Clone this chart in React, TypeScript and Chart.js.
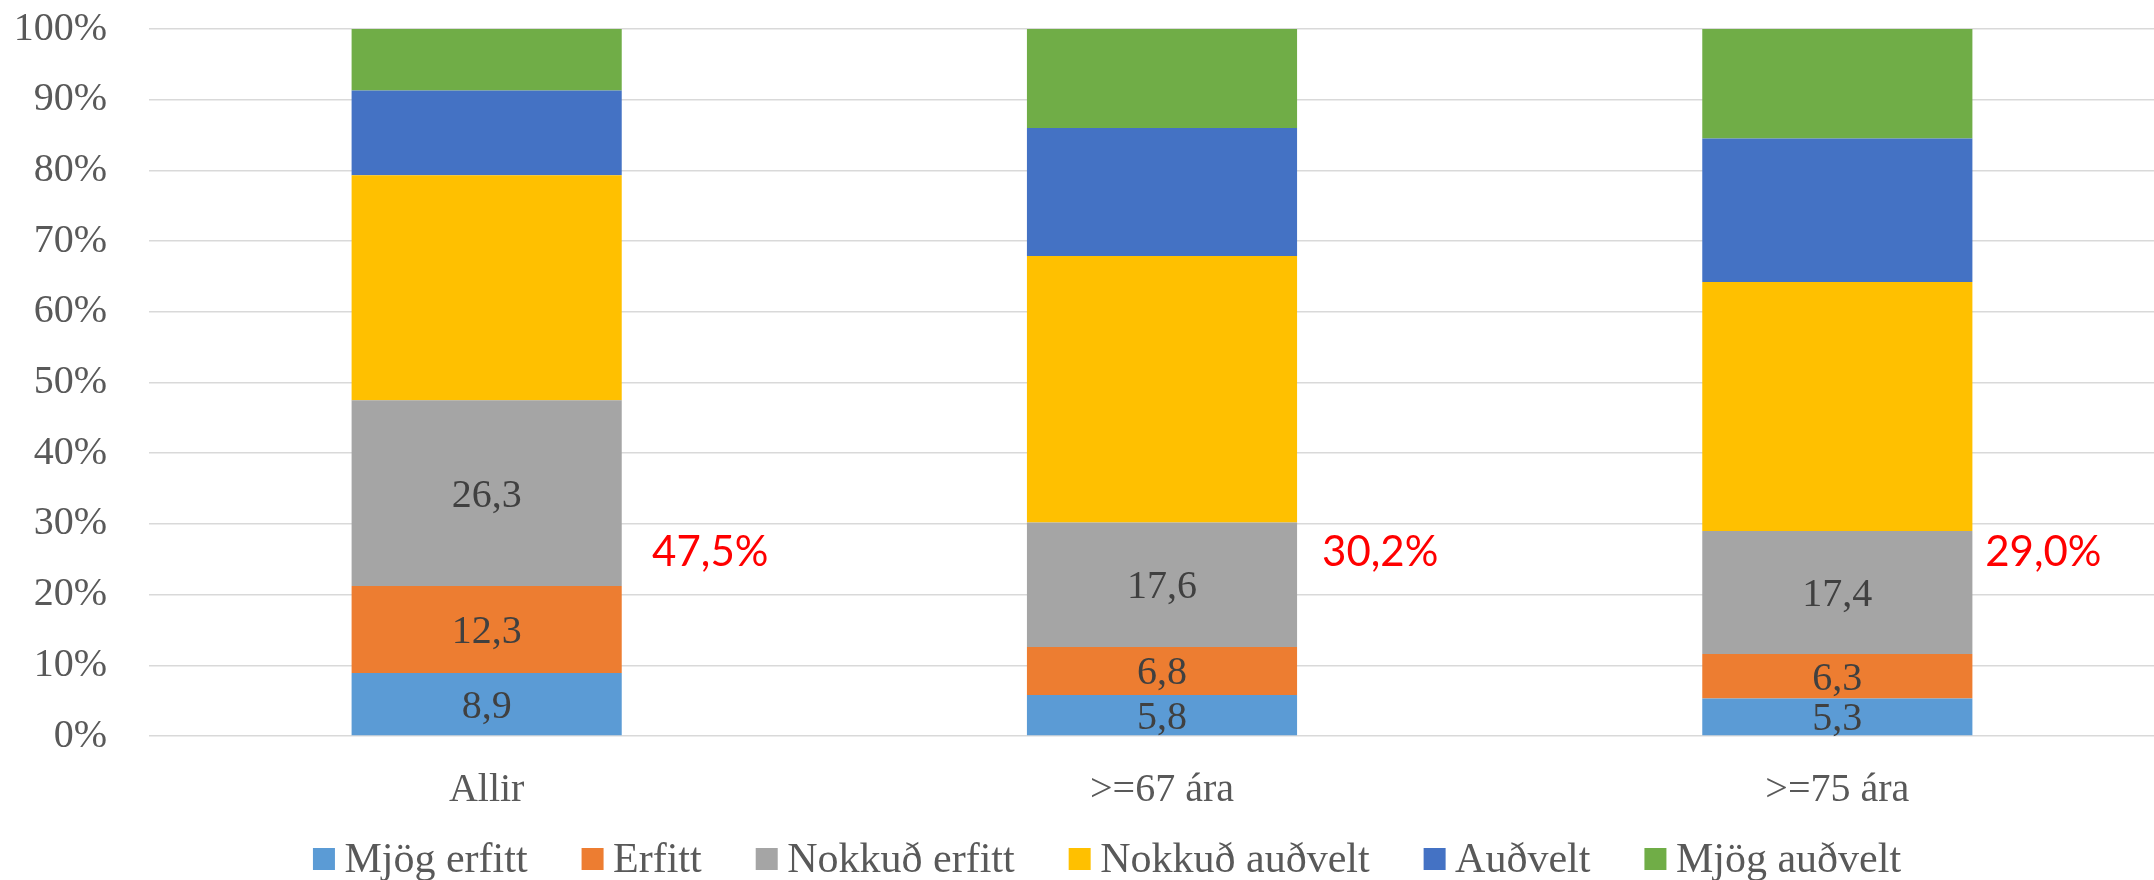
import { useEffect, useRef } from 'react';
import { Chart, registerables } from 'chart.js';

Chart.register(...registerables);

const categories = ['Allir', '>=67 ára', '>=75 ára'];
const seriesNames = ['Mjög erfitt', 'Erfitt', 'Nokkuð erfitt', 'Nokkuð auðvelt', 'Auðvelt', 'Mjög auðvelt'];
const mjogErfitt = [8.9, 5.8, 5.3];
const erfitt = [12.3, 6.8, 6.3];
const nokkudErfitt = [26.3, 17.6, 17.4];
const nokkudAudvelt = [31.8, 37.7, 35.2];
const audvelt = [12.0, 18.1, 20.3];
const mjogAudvelt = [8.7, 14.0, 15.5];
const difficultTotals = [47.5, 30.2, 29.0];
const seriesColors = ['#5B9BD5', '#ED7D31', '#A5A5A5', '#FFC000', '#4472C4', '#70AD47'];

const SERIF = '"Liberation Serif", "Times New Roman", serif';
const CANVAS_W = 2176;
const CANVAS_H = 880;

const fmt = (v: number) => v.toFixed(1).replace('.', ',');

const segmentLabels = {
  id: 'segmentLabels',
  afterDatasetsDraw(chart: any) {
    const ctx = chart.ctx;
    ctx.save();
    ctx.font = `40px ${SERIF}`;
    ctx.fillStyle = '#404040';
    ctx.textAlign = 'center';
    ctx.textBaseline = 'middle';
    for (let d = 0; d < 3; d++) {
      const meta = chart.getDatasetMeta(d);
      const values = chart.data.datasets[d].data as number[];
      meta.data.forEach((bar: any, i: number) => {
        const p = bar.getProps(['x', 'y', 'base'], true);
        ctx.fillText(fmt(values[i]), p.x, (p.y + p.base) / 2 + 3);
      });
    }
    ctx.restore();
  },
};

const totalLabelOffsets = [0.245, 0.237, 0.219];
const totalLabelLevel = 25.9;

const totalLabels = {
  id: 'totalLabels',
  afterDatasetsDraw(chart: any) {
    const ctx = chart.ctx;
    const xs = chart.scales.x;
    const ys = chart.scales.y;
    const catW = xs.getPixelForValue(1) - xs.getPixelForValue(0);
    ctx.save();
    ctx.font = '42px Lato, "Liberation Sans", sans-serif';
    ctx.fillStyle = '#FF0000';
    ctx.textAlign = 'left';
    ctx.textBaseline = 'middle';
    difficultTotals.forEach((t, i) => {
      const x = xs.getPixelForValue(i) + totalLabelOffsets[i] * catW;
      const y = ys.getPixelForValue(totalLabelLevel);
      ctx.fillText(fmt(t) + '%', x, y);
    });
    ctx.restore();
  },
};

const customLegend = {
  id: 'customLegend',
  afterDraw(chart: any) {
    const ctx = chart.ctx;
    ctx.save();
    ctx.font = `42px ${SERIF}`;
    const box = 22;
    const boxGap = 9.5;
    const itemGap = 54;
    const items = chart.data.datasets.map((ds: any) => ({
      text: ds.label as string,
      color: ds.backgroundColor as string,
      w: ctx.measureText(ds.label).width,
    }));
    const total = items.reduce((s: number, it: any) => s + box + boxGap + it.w, 0) + itemGap * (items.length - 1);
    const center = 1107;
    let x = center - total / 2;
    const baseline = 872;
    const boxTop = 848;
    ctx.textAlign = 'left';
    ctx.textBaseline = 'alphabetic';
    items.forEach((it: any) => {
      ctx.fillStyle = it.color;
      ctx.fillRect(x, boxTop, box, box);
      ctx.fillStyle = '#595959';
      ctx.fillText(it.text, x + box + boxGap, baseline);
      x += box + boxGap + it.w + itemGap;
    });
    ctx.restore();
  },
};

export default function App() {
  const ref = useRef<HTMLCanvasElement | null>(null);

  useEffect(() => {
    if (!ref.current) return;
    const seriesData = [mjogErfitt, erfitt, nokkudErfitt, nokkudAudvelt, audvelt, mjogAudvelt];
    const chart = new Chart(ref.current, {
      type: 'bar',
      data: {
        labels: categories,
        datasets: seriesNames.map((name, i) => ({
          label: name,
          data: seriesData[i],
          backgroundColor: seriesColors[i],
          borderWidth: 0,
          barPercentage: 0.4,
          categoryPercentage: 1,
        })),
      },
      options: {
        responsive: false,
        animation: false,
        devicePixelRatio: 1,
        layout: { padding: { top: 29, right: 1, left: 0, bottom: 0 } },
        plugins: {
          legend: { display: false },
          tooltip: { enabled: false },
        },
        scales: {
          x: {
            stacked: true,
            grid: { display: false },
            border: { display: false },
            ticks: {
              color: '#595959',
              font: { family: SERIF, size: 40 },
              padding: 22,
            },
            afterFit: (scale: any) => {
              scale.height = 144;
              scale.paddingLeft = 0;
              scale.paddingRight = 0;
            },
          },
          y: {
            stacked: true,
            min: 0,
            max: 100,
            border: { display: false },
            grid: { color: '#D9D9D9', lineWidth: 1.5, drawTicks: false },
            ticks: {
              stepSize: 10,
              color: '#595959',
              font: { family: SERIF, size: 40 },
              padding: 42,
              callback: (v: any) => `${v}%`,
            },
            afterFit: (scale: any) => {
              scale.width = 149;
              scale.paddingTop = 0;
              scale.paddingBottom = 0;
            },
          },
        },
      },
      plugins: [segmentLabels, totalLabels, customLegend],
    });
    return () => chart.destroy();
  }, []);

  return (
    <div style={{ position: 'fixed', left: 0, top: 0, width: 2154, height: 880, overflow: 'hidden', background: '#fff' }}>
      <canvas ref={ref} width={CANVAS_W} height={CANVAS_H} style={{ width: CANVAS_W, height: CANVAS_H, display: 'block' }} />
    </div>
  );
}
